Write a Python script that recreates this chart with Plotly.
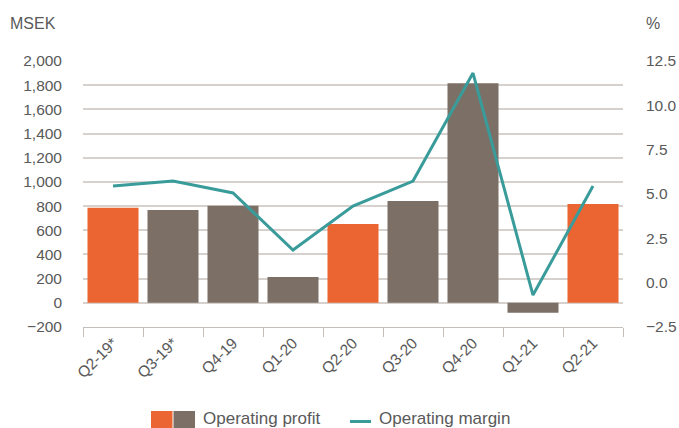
import plotly.graph_objects as go

categories = ["Q2-19*", "Q3-19*", "Q4-19", "Q1-20", "Q2-20", "Q3-20", "Q4-20", "Q1-21", "Q2-21"]
operating_profit = [786, 768, 803, 213, 652, 842, 1815, -82, 817]
operating_margin = [5.45, 5.73, 5.06, 1.84, 4.32, 5.73, 11.82, -0.70, 5.45]
left_ticks = [-200, 0, 200, 400, 600, 800, 1000, 1200, 1400, 1600, 1800, 2000]
right_ticks = [-2.5, 0.0, 2.5, 5.0, 7.5, 10.0, 12.5]

ORANGE = "#EB6532"
GRAY = "#7B6F66"
TEAL = "#3A9C9A"
TXT = "#595959"
GRID = "#D6D1CC"
FONT = "Liberation Sans, Arial, sans-serif"

bar_colors = [ORANGE if c.startswith("Q2") else GRAY for c in categories]

fig = go.Figure()
fig.add_trace(go.Bar(x=categories, y=operating_profit, marker=dict(color=bar_colors, line=dict(width=0)),
                     name="Operating profit", showlegend=False))
fig.add_trace(go.Scatter(x=categories, y=operating_margin, yaxis="y2", mode="lines",
                         line=dict(color=TEAL, width=3), name="Operating margin", showlegend=False))

W, H = 679, 428
L, R, T, B = 83, 56, 61, 101
pw, ph = W - L - R, H - T - B

def px(x):
    return (x - L) / pw

def py(y):
    return (H - B - y) / ph

shapes = [
    dict(type="rect", xref="paper", yref="paper", x0=px(151), x1=px(172.5), y0=py(411), y1=py(432),
         fillcolor=ORANGE, line=dict(width=0)),
    dict(type="rect", xref="paper", yref="paper", x0=px(173.5), x1=px(195), y0=py(411), y1=py(432),
         fillcolor=GRAY, line=dict(width=0)),
    dict(type="line", xref="paper", yref="paper", x0=px(350), x1=px(371), y0=py(421.5), y1=py(421.5),
         line=dict(color=TEAL, width=3)),
]
annotations = [
    dict(text="Operating profit", xref="paper", yref="paper", x=px(201), y=py(418.5), xanchor="left",
         yanchor="middle", showarrow=False, font=dict(size=17, color=TXT, family=FONT)),
    dict(text="Operating margin", xref="paper", yref="paper", x=px(377), y=py(418.5), xanchor="left",
         yanchor="middle", showarrow=False, font=dict(size=17, color=TXT, family=FONT)),
    dict(text="MSEK", xref="paper", yref="paper", x=px(8), y=py(23), xanchor="left",
         yanchor="middle", showarrow=False, font=dict(size=16, color=TXT, family=FONT)),
    dict(text="%", xref="paper", yref="paper", x=px(644), y=py(23), xanchor="left",
         yanchor="middle", showarrow=False, font=dict(size=16, color=TXT, family=FONT)),
]

fig.update_layout(
    width=W, height=H,
    margin=dict(l=L, r=R, t=T, b=B, pad=0, autoexpand=False),
    paper_bgcolor="white", plot_bgcolor="white",
    font=dict(family=FONT, size=15.5, color=TXT),
    bargap=0.15,
    shapes=shapes, annotations=annotations,
    xaxis=dict(type="category", showline=True, linecolor="#C4BFBA", linewidth=1,
               ticks="outside", tickson="boundaries", ticklen=9, tickcolor="#C4BFBA",
               tickangle=-45, showgrid=False, tickfont=dict(size=15.5, color=TXT), automargin=False),
    yaxis=dict(range=[-200, 2000], tickvals=left_ticks, tickformat=",", showgrid=True,
               gridcolor=GRID, gridwidth=1.5, zeroline=True, zerolinecolor=GRID, zerolinewidth=1.5,
               showline=False, ticks="", ticklabelstandoff=20, automargin=False),
    yaxis2=dict(range=[-2.5, 12.5], tickvals=right_ticks, tickformat=".1f", overlaying="y",
                side="right", showgrid=False, zeroline=False, showline=False, ticks="",
                ticklabelstandoff=22, automargin=False),
)

fig.write_html("out.html", config={"displayModeBar": False},
               post_script="document.body.style.margin='0';document.body.style.overflow='hidden';")
